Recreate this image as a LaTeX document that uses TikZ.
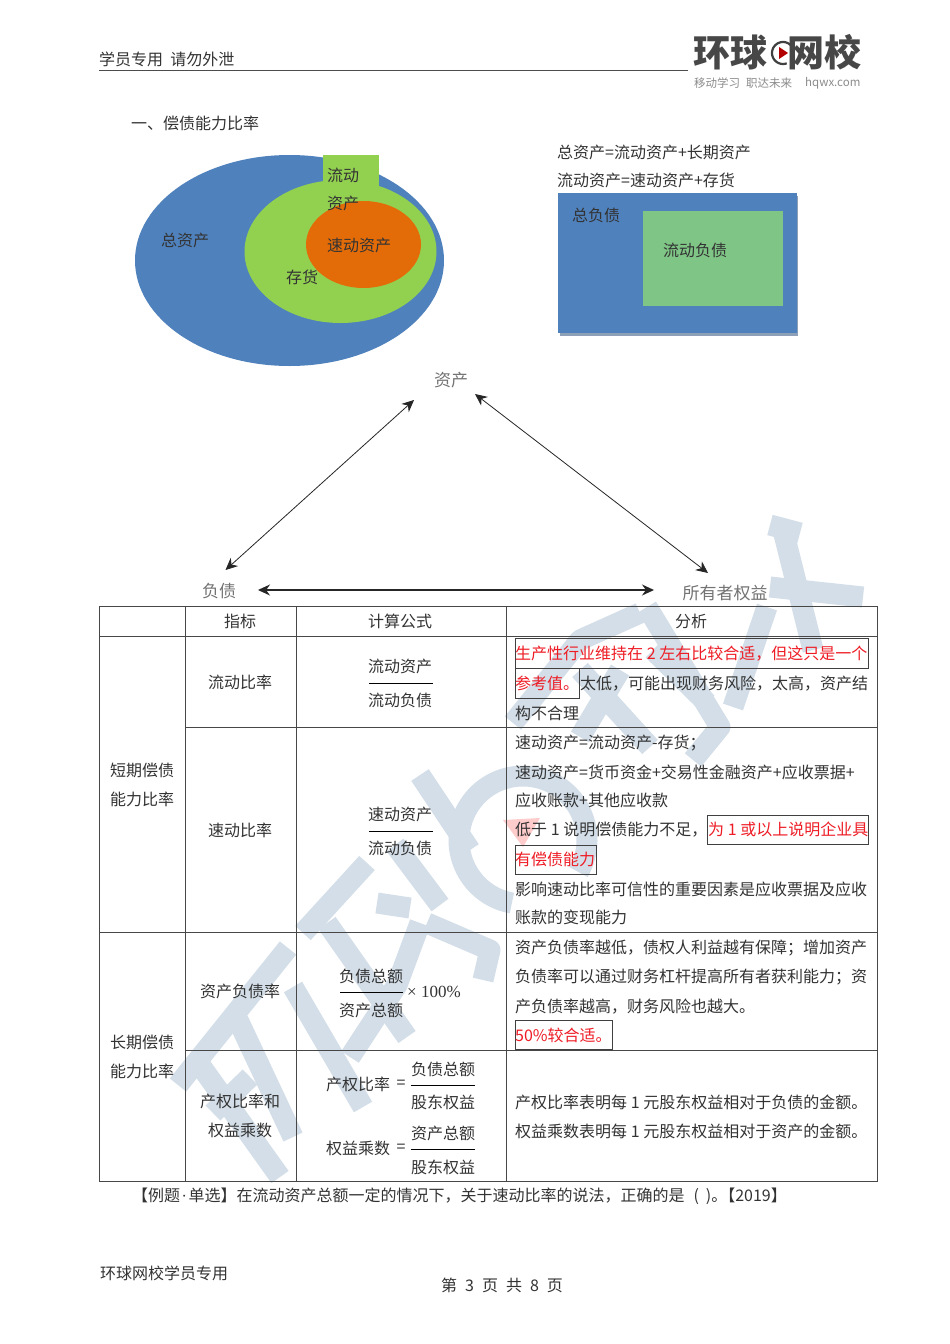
\documentclass[tikz,border=0pt]{standalone}
\usepackage{fontspec}
\setmainfont{Noto Sans CJK SC}
\newfontfamily\serifl{Liberation Serif}
\definecolor{wm}{HTML}{D3DEE8}
\definecolor{blueb}{HTML}{4F81BD}
\definecolor{greenl}{HTML}{92D050}
\definecolor{orangeb}{HTML}{E36C09}
\definecolor{greenb}{HTML}{7FC586}
\definecolor{ink}{HTML}{333333}
\definecolor{redt}{HTML}{EE1C25}
\definecolor{shad}{HTML}{8E9FB8}
\usetikzlibrary{arrows.meta}
\tikzset{
 tx/.style={inner sep=0pt,font=\fontsize{16}{18}\selectfont,text=ink,yshift=-0.2pt},
 lf/.style={tx,anchor=west},
 rd/.style={lf,text=redt},
 gl/.style={inner sep=0pt,font=\fontsize{17}{20}\selectfont,text=black!55,yshift=-0.2pt},
 wk/.style={wm,line width=21pt},
 tb/.style={draw=black!72,line width=0.9pt},
 bx/.style={draw=black!75,line width=0.8pt},
 dbl/.style={<->,>={Stealth[length=12pt,width=11pt]},line width=0.8pt,black!85},
 fr/.style={draw=black,line width=0.8pt},
 lgt/.style={inner sep=0pt,font=\fontsize{37}{38}\selectfont\bfseries,text=black!72},
 lgs/.style={inner sep=0pt,anchor=west,font=\fontsize{11.5}{12}\selectfont,text=black!45}
}
\begin{document}
\begin{tikzpicture}[x=1pt,y=-1pt]
\useasboundingbox (0,0) rectangle (950,1344);
\fill[white] (0,0) rectangle (950,1344);
% watermark strokes
\draw[wk] (288,948) -- (178,1085);
\draw[wk] (193,1055) -- (280,1177);
\draw[wk] (250,1077) -- (213,1113);
\draw[wk] (238,1020) -- (293,1137);
\draw[wk] (293,987) -- (363,1107);
\draw[wk] (367,863) -- (303,933);
\draw[wk] (327,923) -- (407,1037);
\draw[wk] (377,903) -- (410,908);
\draw[wk,line join=round] (427,923) -- (490,950) -- (483,980);
\draw[wk,line join=round] (420,923) -- (397,985) -- (350,1057);
\draw[wk] (420,775) -- (470,850);
\draw[wk] (395,845) -- (440,905);
\draw[wk] plot[domain=-260:30,samples=60,smooth] ({523+64*cos(\x)},{840+64*sin(\x)});
\fill[red!20] (503,820) -- (540,818) -- (523,847) -- cycle;
\draw[wk,line join=round] (640,613) -- (580,640) -- (513,723);
\draw[wk,line join=round] (647,607) -- (720,727) -- (693,760);
\draw[wk] (580,670) -- (650,747);
\draw[wk] (620,670) -- (580,737);
\draw[wk] (653,650) -- (707,703);
\draw[wk] (767,607) -- (733,707);
\draw[wk] (770,525) -- (800,533);
\draw[wk] (783,530) -- (813,650);
\draw[wk] (770,587) -- (863,597);
% header
\node[lf] (h1) at (99,59) {学员专用\ \ 请勿外泄};
\coordinate (hl1) at (99,70.5);\coordinate (hl2) at (688,70.5);
\draw[black!70,line width=0.7pt] (hl1) -- (hl2);
\node[lgt,anchor=west] (lg1) at (693,52) {环球};
\draw[black!75,line width=2.2pt] plot[domain=-50:200,samples=30,smooth] ({783-11*sin(\x)},{53-11*cos(\x)});
\fill[red!70!black] (779,47) -- (788,53) -- (779,59) -- cycle;
\node[lgt,anchor=east] (lg2) at (862,52) {网校};
\node[lgs] (lg3) at (694,83) {移动学习};
\node[lgs] (lg4) at (746,83) {职达未来};
\node[lgs] (lg5) at (805,83) {hqwx.com};
\node[lf] (t1) at (131,123) {一、偿债能力比率};
% left venn
\fill[blueb] (289.5,260.5) ellipse[x radius=154.5,y radius=105.5];
\fill[greenl] (323,155) rectangle (379,195);
\fill[greenl] (340.5,251.5) ellipse[x radius=96,y radius=71.5];
\fill[orangeb] (363.5,244.5) ellipse[x radius=57.5,y radius=43.5];
\node[tx] (a1) at (185,240) {总资产};
\node[tx] (a2) at (343,175) {流动};
\node[tx] (a3) at (343,203) {资产};
\node[tx] (a4) at (359,245) {速动资产};
\node[tx] (a5) at (302,277) {存货};
% right
\node[lf] (e1) at (557,152) {总资产=流动资产+长期资产};
\node[lf] (e2) at (557,180) {流动资产=速动资产+存货};
\fill[shad] (560,196) rectangle (798,336);
\fill[blueb] (558,193) rectangle (796.5,333);
\fill[greenb] (642.5,211) rectangle (783,306);
\node[tx] (b1) at (596,215) {总负债};
\node[tx] (b2) at (695,250) {流动负债};
% triangle
\node[gl] (n1) at (451,380) {资产};
\node[gl] (n2) at (219,591) {负债};
\node[gl] (n3) at (725,593) {所有者权益};
\coordinate (c1) at (414,400);\coordinate (c2) at (225.5,570);
\coordinate (c3) at (475,394);\coordinate (c4) at (708,573);
\coordinate (c5) at (258,590);\coordinate (c6) at (654,590);
\draw[dbl] (c1) -- (c2);
\draw[dbl] (c3) -- (c4);
\draw[dbl,line width=1.1pt] (c5) -- (c6);
% table
\draw[tb] (99,606) rectangle (877,1181);
\draw[tb] (99,636) -- (877,636);
\draw[tb] (99,932) -- (877,932);
\draw[tb] (185,727) -- (877,727);
\draw[tb] (185,1050) -- (877,1050);
\draw[tb] (185,606) -- (185,1181);
\draw[tb] (296,606) -- (296,1181);
\draw[tb] (506,606) -- (506,1181);
\node[tx] (r1) at (240,621) {指标};
\node[tx] (r2) at (400,621) {计算公式};
\node[tx] (r3) at (691,621) {分析};
\node[tx] (s1) at (142,770) {短期偿债};
\node[tx] (s2) at (142,799) {能力比率};
\node[tx] (s3) at (142,1042) {长期偿债};
\node[tx] (s4) at (142,1071) {能力比率};
\node[tx] (i1) at (240,682) {流动比率};
\node[tx] (i2) at (240,830) {速动比率};
\node[tx] (i3) at (240,991) {资产负债率};
\node[tx] (i4) at (240,1101) {产权比率和};
\node[tx] (i5) at (240,1130) {权益乘数};
% formulas
\node[tx] (f1) at (400,666) {流动资产};
\draw[fr] (369,683) -- (433,683);
\node[tx] (f2) at (400,700) {流动负债};
\node[tx] (f3) at (400,814) {速动资产};
\draw[fr] (369,831) -- (433,831);
\node[tx] (f4) at (400,848) {流动负债};
\node[tx] (f5) at (371,976) {负债总额};
\draw[fr] (340,992) -- (403,992);
\node[tx] (f6) at (371,1010) {资产总额};
\node[inner sep=0pt,anchor=west,text=ink,font=\fontsize{17}{18}\serifl] (f7) at (407,992) {× 100\%};
\node[lf] (f8) at (326,1084) {产权比率};
\node[tx] (f9) at (401,1084) {=};
\node[tx] (f10) at (443,1069) {负债总额};
\draw[fr] (411,1085) -- (475,1085);
\node[tx] (f11) at (443,1102) {股东权益};
\node[lf] (f12) at (326,1148) {权益乘数};
\node[tx] (f13) at (401,1148) {=};
\node[tx] (f14) at (443,1133) {资产总额};
\draw[fr] (411,1149) -- (475,1149);
\node[tx] (f15) at (443,1167) {股东权益};
% analysis
\draw[bx] (515,638) rectangle (868,668);
\draw[bx] (515,668) rectangle (579,698);
\draw[bx] (707,815) rectangle (868,844);
\draw[bx] (515,845) rectangle (596,874);
\draw[bx] (515,1020) rectangle (612,1049);
\node[rd] (z1) at (515,653) {生产性行业维持在 2 左右比较合适，但这只是一个};
\node[rd] (z2) at (515,683) {参考值。};
\node[lf] (z3) at (580,683) {太低，可能出现财务风险，太高，资产结};
\node[lf] (z4) at (515,713) {构不合理};
\node[lf] (z5) at (515,743) {速动资产=流动资产-存货；};
\node[lf] (z6) at (515,772) {速动资产=货币资金+交易性金融资产+应收票据+};
\node[lf] (z7) at (515,800) {应收账款+其他应收款};
\node[lf] (z8) at (515,829) {低于 1 说明偿债能力不足，};
\node[rd] (z9) at (708,829) {为 1 或以上说明企业具};
\node[rd] (z10) at (515,859) {有偿债能力};
\node[lf] (z11) at (515,889) {影响速动比率可信性的重要因素是应收票据及应收};
\node[lf] (z12) at (515,917) {账款的变现能力};
\node[lf] (z13) at (515,948) {资产负债率越低，债权人利益越有保障；增加资产};
\node[lf] (z14) at (515,977) {负债率可以通过财务杠杆提高所有者获利能力；资};
\node[lf] (z15) at (515,1006) {产负债率越高，财务风险也越大。};
\node[rd] (z16) at (515,1035) {50\%较合适。};
\node[lf] (z17) at (515,1102) {产权比率表明每 1 元股东权益相对于负债的金额。};
\node[lf] (z18) at (515,1131) {权益乘数表明每 1 元股东权益相对于资产的金额。};
% bottom
\node[lf] (q1) at (132,1196) {【例题\hspace{1.5pt}{\serifl ·}\hspace{1.5pt}单选】在流动资产总额一定的情况下，关于速动比率的说法，正确的是\hspace{9pt}(\hspace{7pt})。\hspace{-8pt}【2019】};
\node[lf] (q2) at (100,1273) {环球网校学员专用};
\node[tx] (q3) at (502,1285) {第\hspace{8pt}3\hspace{8pt}页\hspace{8pt}共\hspace{8pt}8\hspace{8pt}页};
\end{tikzpicture}
\end{document}
